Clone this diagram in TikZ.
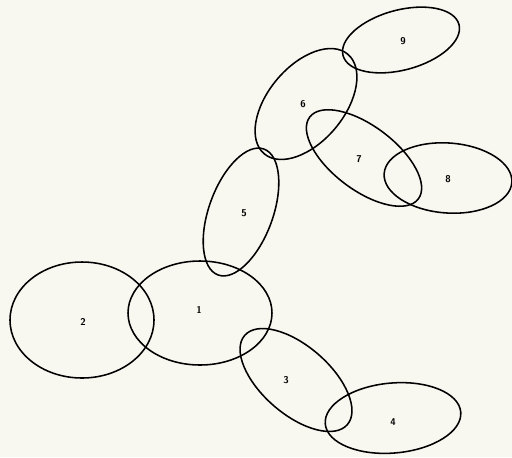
\documentclass[tikz,border=0pt]{standalone}
\usepackage{tikz}
\usetikzlibrary{shapes.geometric}
\definecolor{paper}{RGB}{248,247,240}

\begin{document}
\begin{tikzpicture}[line width=1.1pt]
\fill[paper] (0,0) rectangle (12.8,-11.425);
\useasboundingbox (0,0) rectangle (12.8,-11.425);

\node[draw, ellipse, minimum width=3.6cm, minimum height=2.6cm] (e1) at (5.0,-7.825) {};
\node[draw, ellipse, minimum width=3.6cm, minimum height=2.9cm] (e2) at (2.05,-8.0) {};
\node[draw, ellipse, minimum width=3.4cm, minimum height=1.7cm, rotate=-41] (e3) at (7.4,-9.5) {};
\node[draw, ellipse, minimum width=3.4cm, minimum height=1.75cm, rotate=5] (e4) at (9.825,-10.45) {};
\node[draw, ellipse, minimum width=3.35cm, minimum height=1.6cm, rotate=70] (e5) at (6.025,-5.3) {};
\node[draw, ellipse, minimum width=3.25cm, minimum height=1.9cm, rotate=50] (e6) at (7.65,-2.6) {};
\node[draw, ellipse, minimum width=3.4cm, minimum height=1.6cm, rotate=-37] (e7) at (9.1,-3.95) {};
\node[draw, ellipse, minimum width=3.2cm, minimum height=1.75cm, rotate=-4] (e8) at (11.2,-4.45) {};
\node[draw, ellipse, minimum width=3.0cm, minimum height=1.5cm, rotate=15] (e9) at (10.025,-1.0) {};

\node[font=\scriptsize\sffamily\bfseries] (n1) at (4.975,-7.75) {1};
\node[font=\scriptsize\sffamily\bfseries] (n2) at (2.075,-8.05) {2};
\node[font=\scriptsize\sffamily\bfseries] (n3) at (7.15,-9.5) {3};
\node[font=\scriptsize\sffamily\bfseries] (n4) at (9.825,-10.55) {4};
\node[font=\scriptsize\sffamily\bfseries] (n5) at (6.1,-5.325) {5};
\node[font=\scriptsize\sffamily\bfseries] (n6) at (7.575,-2.6) {6};
\node[font=\scriptsize\sffamily\bfseries] (n7) at (8.975,-3.975) {7};
\node[font=\scriptsize\sffamily\bfseries] (n8) at (11.2,-4.475) {8};
\node[font=\scriptsize\sffamily\bfseries] (n9) at (10.075,-1.025) {9};
\end{tikzpicture}
\end{document}
